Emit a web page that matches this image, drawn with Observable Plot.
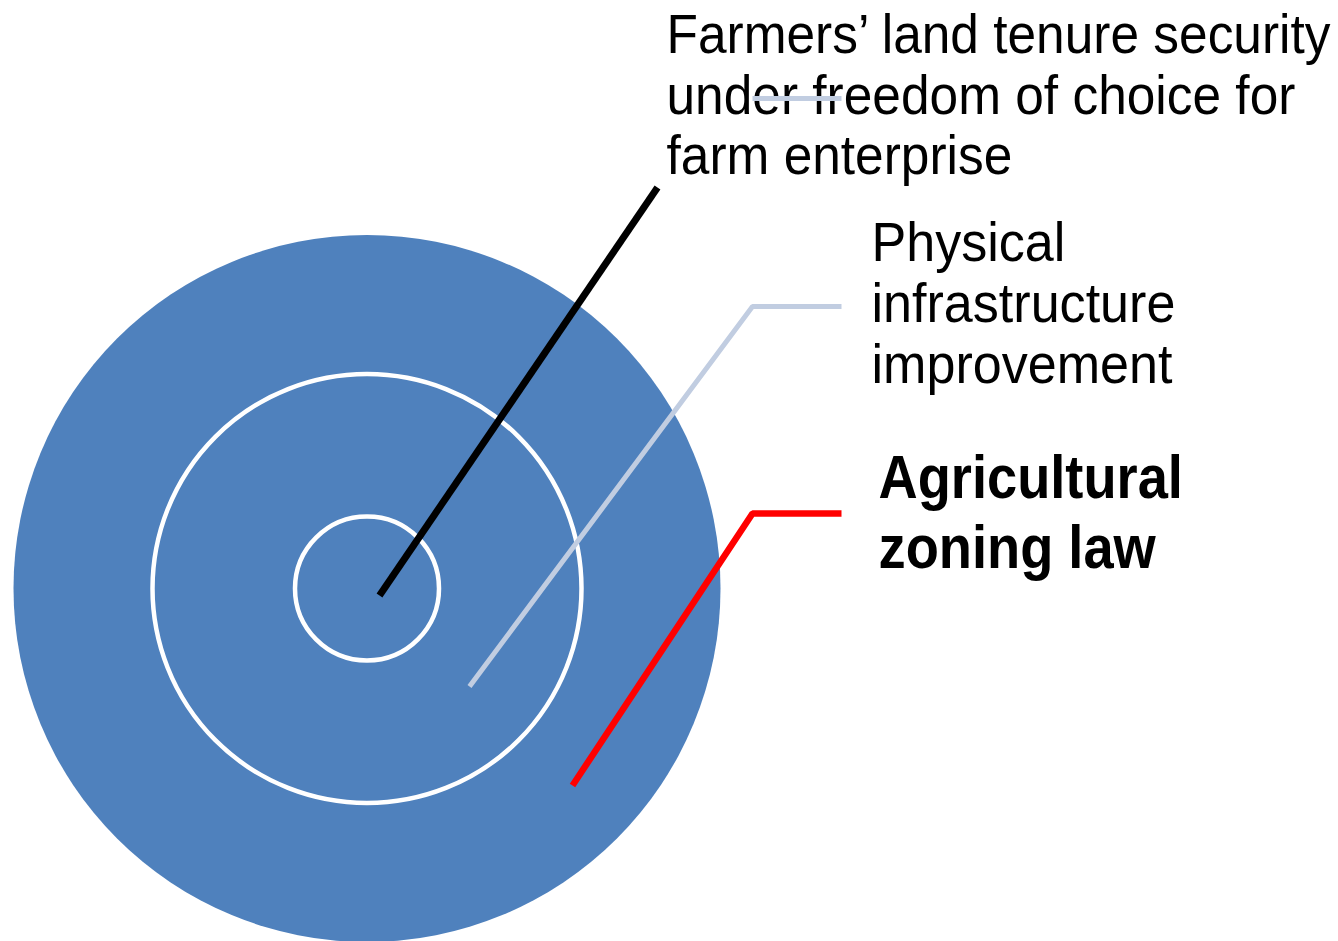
<!DOCTYPE html>
<html>
<head>
<meta charset="utf-8">
<script src="https://cdn.jsdelivr.net/npm/d3@7"></script>
<script src="https://cdn.jsdelivr.net/npm/@observablehq/plot@0.6"></script>
<style>
  html, body { margin: 0; padding: 0; background: #fff; }
  #chart svg { display: block; background: #fff; }
</style>
</head>
<body>
<div id="chart"></div>
<script>
// ---- Data (diagram units, centred on the rings) ----
const ringRadius = [353.5, 214.5, 72];          // outer disc, middle ring, inner ring
const ringKind   = ["disc", "ring", "ring"];

const farmersLines  = ["Farmers’ land tenure security", "under freedom of choice for", "farm enterprise"];
const farmersX      = [299.5, 299.5, 299.5];
const farmersY      = [-536, -475, -415];

const physicalLines = ["Physical", "infrastructure", "improvement"];
const physicalX     = [504.5, 504.5, 504.5];
const physicalY     = [-328, -267, -206];

const zoningLines   = ["Agricultural", "zoning law"];
const zoningX       = [511.5, 511.5];
const zoningY       = [-91, -21];

// leader lines: [x, y] points
const farmersLeader  = [[12.5, 7], [290.5, -401]];
const physicalLeader = [[102.5, 98], [385.5, -282], [474.5, -282]];
const zoningLeader   = [[205.5, 197], [385.5, -75], [474.5, -75]];
const strayLeader    = [[385.5, -490], [474.5, -490]];

const blue = "#4f81bd", pale = "#c1cde1", red = "#ff0000";

const toRows = (xs, ys, ts) => ts.map((t, i) => ({x: xs[i], y: ys[i], t}));
const rings = ringRadius.map((r, i) => ({x: 0, y: 0, r, kind: ringKind[i]}));

const chart = Plot.plot({
  width: 1338,
  height: 941,
  margin: 0,
  x: {domain: [-366.5, 971.5], range: [0, 1338], axis: null},
  y: {domain: [-588, 353], range: [0, 941], axis: null},
  r: {type: "linear", domain: [0, 1], range: [0, 1]},
  style: {background: "#fff", overflow: "hidden"},
  marks: [
    Plot.dot(rings.filter(d => d.kind === "disc"), {x: "x", y: "y", r: "r", fill: blue, stroke: "none"}),
    Plot.dot(rings.filter(d => d.kind === "ring"), {x: "x", y: "y", r: "r", fill: "none", stroke: "#fff", strokeWidth: 4.5}),
    Plot.line(farmersLeader, {x: d => d[0], y: d => d[1], stroke: "#000", strokeWidth: 7, strokeLinecap: "butt"}),
    Plot.line(physicalLeader, {x: d => d[0], y: d => d[1], stroke: pale, strokeWidth: 5, strokeLinecap: "butt", strokeLinejoin: "miter"}),
    Plot.line(zoningLeader, {x: d => d[0], y: d => d[1], stroke: red, strokeWidth: 6.5, strokeLinecap: "butt", strokeLinejoin: "miter"}),
    Plot.text(toRows(farmersX, farmersY, farmersLines), {x: "x", y: "y", text: "t", textAnchor: "start", lineAnchor: "bottom",
      fontFamily: "Liberation Sans", fontSize: 55, fill: "#000"}),
    Plot.text(toRows(physicalX, physicalY, physicalLines), {x: "x", y: "y", text: "t", textAnchor: "start", lineAnchor: "bottom",
      fontFamily: "Liberation Sans", fontSize: 56, fill: "#000"}),
    Plot.text(toRows(zoningX, zoningY, zoningLines), {x: "x", y: "y", text: "t", textAnchor: "start", lineAnchor: "bottom",
      fontFamily: "Liberation Sans", fontSize: 62, fontWeight: "bold", fill: "#000"}),
    Plot.line(strayLeader, {x: d => d[0], y: d => d[1], stroke: pale, strokeWidth: 5, strokeLinecap: "butt"})
  ]
});

document.getElementById("chart").append(chart);

// condense the labels horizontally to match the narrow typeface of the original
const condense = [[farmersLines, 0.935], [physicalLines, 0.93], [zoningLines, 0.875]];
chart.querySelectorAll("text").forEach(t => {
  const s = t.textContent;
  for (const [lines, k] of condense) {
    if (lines.includes(s)) {
      const w = t.getComputedTextLength();
      t.setAttribute("textLength", (w * k).toFixed(1));
      t.setAttribute("lengthAdjust", "spacingAndGlyphs");
    }
  }
});
</script>
</body>
</html>
